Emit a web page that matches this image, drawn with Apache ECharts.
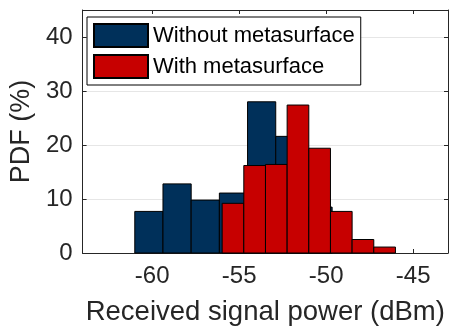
<!DOCTYPE html>
<html>
<head>
<meta charset="utf-8">
<script src="https://cdn.jsdelivr.net/npm/echarts@6/dist/echarts.min.js"></script>
<style>
html,body{margin:0;padding:0;background:#fff;}
#chart{width:455px;height:331px;}
</style>
</head>
<body>
<div id="chart"></div>
<script>
// Data
const seriesNames = ['Without metasurface', 'With metasurface'];
const withoutEdges = [-61.0, -59.38, -57.76, -56.14, -54.52, -52.90, -51.28, -49.66];
const withoutValues = [7.7, 12.8, 9.8, 11.1, 28.0, 21.6, 8.5];
const withEdges = [-55.98, -54.735, -53.49, -52.245, -51.0, -49.755, -48.51, -47.265, -46.02];
const withValues = [9.2, 16.2, 16.4, 27.4, 19.4, 7.7, 2.5, 1.1];
const xTicks = [-60, -55, -50, -45];
const yTicks = [0, 10, 20, 30, 40];
const xTitle = 'Received signal power (dBm)';
const yTitle = 'PDF (%)';

function toBins(edges, values) {
  return values.map((v, i) => [edges[i], edges[i + 1], v]);
}

const FONT = 'Liberation Sans';
const TXT = '#262626';
const AX = '#262626';

function renderBar(params, api) {
  const a = api.coord([api.value(0), api.value(2)]);
  const b = api.coord([api.value(1), 0]);
  return {
    type: 'rect',
    shape: { x: a[0], y: a[1], width: b[0] - a[0], height: b[1] - a[1] },
    style: { fill: api.visual('color'), stroke: '#000', lineWidth: 1 }
  };
}

const chart = echarts.init(document.getElementById('chart'));
chart.setOption({
  animation: false,
  grid: { left: 77, right: 7, top: 10, bottom: 78, containLabel: false },
  legend: {
    orient: 'vertical',
    left: 87, top: 17,
    icon: 'rect',
    itemWidth: 54, itemHeight: 23, itemGap: 6,
    padding: 6,
    borderColor: '#000', borderWidth: 1, backgroundColor: '#fff',
    textStyle: { fontFamily: FONT, fontSize: 22, color: '#000' },
    data: seriesNames
  },
  xAxis: [{
    type: 'value', min: -64, max: -43,
    position: 'bottom',
    axisLine: { show: true, onZero: false, lineStyle: { color: AX, width: 1 } },
    axisTick: { show: true, inside: true, length: 4, customValues: xTicks, lineStyle: { color: AX } },
    axisLabel: { customValues: xTicks, fontFamily: FONT, fontSize: 24, color: TXT, margin: 11 },
    splitLine: { show: false },
    name: xTitle, nameLocation: 'middle', nameGap: 45,
    nameTextStyle: { fontFamily: FONT, fontSize: 27.5, color: TXT }
  }, {
    type: 'value', min: -64, max: -43,
    position: 'top',
    axisLine: { show: true, onZero: false, lineStyle: { color: AX, width: 1 } },
    axisTick: { show: true, inside: true, length: 4, customValues: xTicks, lineStyle: { color: AX } },
    axisLabel: { show: false },
    splitLine: { show: false }
  }],
  yAxis: [{
    type: 'value', min: 0, max: 45, interval: 10,
    position: 'left',
    axisLine: { show: true, onZero: false, lineStyle: { color: AX, width: 1 } },
    axisTick: { show: true, inside: true, length: 4, lineStyle: { color: AX } },
    axisLabel: { fontFamily: FONT, fontSize: 24, color: TXT, margin: 10, showMaxLabel: false },
    splitLine: { show: true, lineStyle: { color: '#e6e6e6', width: 1 } },
    name: yTitle, nameLocation: 'middle', nameGap: 44,
    nameTextStyle: { fontFamily: FONT, fontSize: 27, color: TXT }
  }, {
    type: 'value', min: 0, max: 45, interval: 10,
    position: 'right',
    axisLine: { show: true, onZero: false, lineStyle: { color: AX, width: 1 } },
    axisTick: { show: true, inside: true, length: 4, lineStyle: { color: AX } },
    axisLabel: { show: false },
    splitLine: { show: false }
  }],
  series: [{
    name: seriesNames[0], type: 'custom', renderItem: renderBar,
    xAxisIndex: 0, yAxisIndex: 0,
    itemStyle: { color: '#00305A', borderColor: '#000', borderWidth: 1 },
    encode: { x: [0, 1], y: 2 },
    data: toBins(withoutEdges, withoutValues), z: 2
  }, {
    name: seriesNames[1], type: 'custom', renderItem: renderBar,
    xAxisIndex: 0, yAxisIndex: 0,
    itemStyle: { color: '#C70000', borderColor: '#000', borderWidth: 1 },
    encode: { x: [0, 1], y: 2 },
    data: toBins(withEdges, withValues), z: 3
  }]
});
</script>
</body>
</html>
